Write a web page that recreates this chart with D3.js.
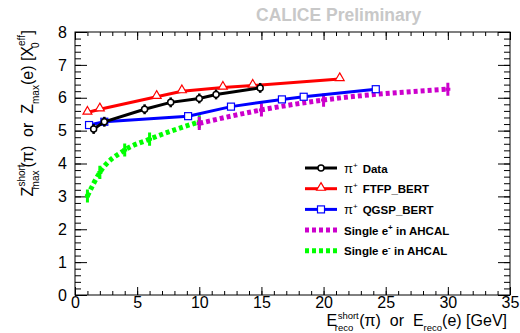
<!DOCTYPE html>
<html>
<head>
<meta charset="utf-8">
<script src="https://cdn.jsdelivr.net/npm/d3@7"></script>
<style>
  body { margin: 0; background: #fff; }
  svg { display: block; font-family: "Liberation Sans", Arial, sans-serif; }
  .tick text { font-size: 16px; fill: #000; }
  .leg { font-size: 11.5px; font-weight: bold; }
  .title { white-space: pre; }
</style>
</head>
<body>
<div id="chart"></div>
<script>
// pi+ data and simulations (energy in GeV, shower max in X0eff)
const dataE = [1.5, 2.36, 5.6, 7.7, 10.0, 11.35, 14.9];
const dataZ = [5.05, 5.27, 5.65, 5.86, 5.98, 6.1, 6.3];
const dataErr = [0.15, 0.15, 0.15, 0.15, 0.15, 0.15, 0.15];

const ftfpE = [1.0, 2.0, 6.57, 8.6, 11.9, 14.3, 21.3];
const ftfpZ = [5.55, 5.65, 6.03, 6.2, 6.31, 6.37, 6.57];

const qgspE = [1.13, 2.36, 9.1, 12.55, 16.65, 18.4, 24.2];
const qgspZ = [5.17, 5.27, 5.44, 5.73, 5.95, 6.03, 6.26];

const posE = [10, 15, 20, 30];
const posZ = [5.22, 5.63, 5.93, 6.26];

const eleE = [1, 2, 4, 6, 10];
const eleZ = [3.01, 3.73, 4.41, 4.74, 5.27];

const xTicks = [0, 5, 10, 15, 20, 25, 30, 35];
const yTicks = [0, 1, 2, 3, 4, 5, 6, 7, 8];

const width = 520, height = 333;
const mLeft = 75, mRight = 510, mTop = 32, mBottom = 295;

const svg = d3.select("#chart").append("svg")
  .attr("width", width)
  .attr("height", height);

const x = d3.scaleLinear().domain([0, 35]).range([mLeft, mRight]);
const y = d3.scaleLinear().domain([0, 8]).range([mBottom, mTop]);

// ticks, ROOT style (inside the frame)
function axis(gen, tr, vals, size, labels) {
  const g = svg.append("g")
    .attr("transform", tr)
    .call(gen.tickValues(vals).tickSize(size).tickSizeOuter(0).tickPadding(labels ? 4 : 0)
      .tickFormat(labels ? d3.format("d") : ""));
  g.select(".domain").remove();
  g.selectAll("line").attr("stroke", "#000");
  return g;
}
const xMinor = d3.range(0, 35.01, 1);
const yMinor = d3.range(0, 8.01, 0.2);
axis(d3.axisBottom(x), `translate(0,${mBottom})`, xMinor, -4, false);
axis(d3.axisTop(x), `translate(0,${mTop})`, xMinor, -4, false);
axis(d3.axisTop(x), `translate(0,${mTop})`, xTicks, -8, false);
axis(d3.axisLeft(y), `translate(${mLeft},0)`, yMinor, -6, false);
axis(d3.axisRight(y), `translate(${mRight},0)`, yMinor, -6, false);
axis(d3.axisRight(y), `translate(${mRight},0)`, yTicks, -12, false);

const xa = axis(d3.axisBottom(x), `translate(0,${mBottom})`, xTicks, -8, true);
xa.selectAll("text").attr("y", 1.5).attr("dy", "0.71em");
const ya = axis(d3.axisLeft(y), `translate(${mLeft},0)`, yTicks, -12, true);
ya.selectAll("text").attr("x", -8);

svg.append("rect")
  .attr("x", mLeft).attr("y", mTop)
  .attr("width", mRight - mLeft).attr("height", mBottom - mTop)
  .attr("fill", "none").attr("stroke", "#000").attr("stroke-width", 1);

const pts = (E, Z) => E.map((e, i) => [e, Z[i]]);
const line = d3.line().x(d => x(d[0])).y(d => y(d[1]));
const smooth = d3.line().curve(d3.curveMonotoneX).x(d => x(d[0])).y(d => y(d[1]));

// single electrons / positrons (dotted)
function dotted(E, Z, color) {
  svg.append("path").datum(pts(E, Z))
    .attr("d", smooth).attr("fill", "none")
    .attr("stroke", color).attr("stroke-width", 5)
    .attr("stroke-dasharray", "4,3");
  svg.selectAll(null).data(pts(E, Z)).enter().append("path")
    .attr("d", d => `M${x(d[0])},${y(d[1] + 0.2)}V${y(d[1] - 0.2)}M${x(d[0]) - 2.5},${y(d[1])}H${x(d[0]) + 2.5}`)
    .attr("stroke", color).attr("stroke-width", 3);
}
dotted(eleE, eleZ, "#00ff00");
dotted(posE, posZ, "#cc00cc");

// pi+ curves
svg.append("path").datum(pts(qgspE, qgspZ))
  .attr("d", line).attr("fill", "none").attr("stroke", "#0000ff").attr("stroke-width", 3);
svg.selectAll(null).data(pts(qgspE, qgspZ)).enter().append("rect")
  .attr("x", d => x(d[0]) - 3.5).attr("y", d => y(d[1]) - 3.5)
  .attr("width", 7).attr("height", 7)
  .attr("fill", "#fff").attr("stroke", "#0000ff").attr("stroke-width", 1.2);

svg.append("path").datum(pts(ftfpE, ftfpZ))
  .attr("d", line).attr("fill", "none").attr("stroke", "#ff0000").attr("stroke-width", 3);
const tri = d3.symbol().type(d3.symbolTriangle).size(34);
svg.selectAll(null).data(pts(ftfpE, ftfpZ)).enter().append("path")
  .attr("transform", d => `translate(${x(d[0])},${y(d[1]) - 1})`)
  .attr("d", tri).attr("fill", "#fff").attr("stroke", "#ff0000").attr("stroke-width", 1.2);

svg.append("path").datum(pts(dataE, dataZ))
  .attr("d", line).attr("fill", "none").attr("stroke", "#000").attr("stroke-width", 3);
svg.selectAll(null).data(dataE.map((e, i) => [e, dataZ[i], dataErr[i]])).enter().append("path")
  .attr("d", d => `M${x(d[0])},${y(d[1] + d[2])}V${y(d[1] - d[2])}`)
  .attr("stroke", "#000").attr("stroke-width", 2.5);
svg.selectAll(null).data(pts(dataE, dataZ)).enter().append("circle")
  .attr("cx", d => x(d[0])).attr("cy", d => y(d[1])).attr("r", 3)
  .attr("fill", "#fff").attr("stroke", "#000").attr("stroke-width", 1.5);

// legend
const legend = [
  { pi: true, text: "Data", color: "#000", mark: "circle" },
  { pi: true, text: "FTFP_BERT", color: "#ff0000", mark: "tri" },
  { pi: true, text: "QGSP_BERT", color: "#0000ff", mark: "square" },
  { pi: false, text: "Single e", sup: "+", rest: " in AHCAL", color: "#cc00cc", mark: "dot" },
  { pi: false, text: "Single e", sup: "-", rest: " in AHCAL", color: "#00ff00", mark: "dot" }
];
legend.forEach((l, i) => {
  const ly = 168 + i * 20.7;
  const g = svg.append("g");
  if (l.mark === "dot") {
    g.append("line").attr("x1", 305).attr("x2", 337).attr("y1", ly).attr("y2", ly)
      .attr("stroke", l.color).attr("stroke-width", 5).attr("stroke-dasharray", "4,3");
  } else {
    g.append("line").attr("x1", 305).attr("x2", 337).attr("y1", ly).attr("y2", ly)
      .attr("stroke", l.color).attr("stroke-width", 3);
    if (l.mark === "circle")
      g.append("circle").attr("cx", 321).attr("cy", ly).attr("r", 3)
        .attr("fill", "#fff").attr("stroke", l.color).attr("stroke-width", 1.5);
    if (l.mark === "tri")
      g.append("path").attr("transform", `translate(321,${ly - 1})`).attr("d", tri)
        .attr("fill", "#fff").attr("stroke", l.color).attr("stroke-width", 1.2);
    if (l.mark === "square")
      g.append("rect").attr("x", 317.5).attr("y", ly - 3.5).attr("width", 7).attr("height", 7)
        .attr("fill", "#fff").attr("stroke", l.color).attr("stroke-width", 1.2);
  }
  const t = g.append("text").attr("class", "leg").attr("x", 344).attr("y", ly + 4.5);
  if (l.pi) {
    t.append("tspan").attr("font-weight", "normal").attr("font-size", 13).text("π");
    t.append("tspan").attr("font-weight", "normal").attr("font-size", 8).attr("dy", -5).text("+");
    t.append("tspan").attr("dy", 5).attr("dx", 5).text(l.text);
  } else {
    t.append("tspan").text(l.text);
    t.append("tspan").attr("font-size", 8).attr("dy", -5).text(l.sup);
    t.append("tspan").attr("dy", 5).text(l.rest);
  }
});

// CALICE label
svg.append("text").attr("x", 256).attr("y", 21)
  .attr("font-size", 17.5).attr("font-weight", "bold").attr("fill", "#c8c8c8")
  .text("CALICE Preliminary");

// x title
const xt = svg.append("text").attr("class", "title").attr("x", 507).attr("y", 326)
  .attr("text-anchor", "end").attr("font-size", 16);
xt.append("tspan").text("E");
xt.append("tspan").attr("font-size", 9.5).attr("dx", 0.5).attr("dy", -7).text("short");
xt.append("tspan").attr("font-size", 9.5).attr("dx", -24).attr("dy", 11.5).text("reco");
xt.append("tspan").attr("dy", -4.5).attr("dx", 6).text("(π)  or  E");
xt.append("tspan").attr("font-size", 9.5).attr("dy", 4.5).text("reco");
xt.append("tspan").attr("dy", -4.5).text("(e) [GeV]");

// y title
const yt = svg.append("text").attr("class", "title")
  .attr("transform", "translate(33,30) rotate(-90)")
  .attr("text-anchor", "end").attr("font-size", 16);
yt.append("tspan").text("Z");
yt.append("tspan").attr("font-size", 10).attr("dy", -8).text("short");
yt.append("tspan").attr("font-size", 10).attr("dx", -25).attr("dy", 14).text("max");
yt.append("tspan").attr("dy", -6).attr("dx", 3).text("(π)  or  Z");
yt.append("tspan").attr("font-size", 10).attr("dy", 6).text("max");
yt.append("tspan").attr("dy", -6).text("(e) [X");
yt.append("tspan").attr("font-size", 10).attr("dy", -8).text("eff");
yt.append("tspan").attr("font-size", 10).attr("dx", -13).attr("dy", 14).text("0");
yt.append("tspan").attr("dy", -6).attr("dx", 8).text("]");
</script>
</body>
</html>
